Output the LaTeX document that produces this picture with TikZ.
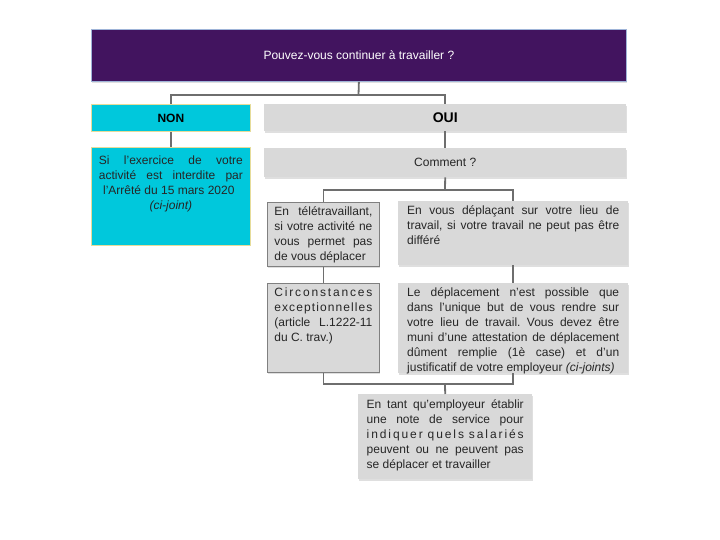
\documentclass[tikz,border=0pt]{standalone}
\usepackage{fontspec}
\setmainfont{Liberation Sans}
\usetikzlibrary{shadows}
\frenchspacing
\definecolor{titlepurple}{HTML}{42145F}
\definecolor{titleedge}{HTML}{9FB4D8}
\definecolor{noncyan}{HTML}{00C8DC}
\definecolor{nonedge}{HTML}{E6DC9A}
\definecolor{boxgray}{HTML}{D9D9D9}
\definecolor{boxedge}{HTML}{808080}
\definecolor{linkgray}{HTML}{6E6E6E}
\definecolor{txt}{HTML}{262626}
\newcommand{\jline}[1]{\makebox[\linewidth][s]{#1}\\}
\newcommand{\lline}[1]{#1\\}
\newcommand{\boxtext}[4]{\parbox[c][#1pt][t]{#2pt}{\vspace*{#3pt}\fontsize{12}{15}\selectfont\color{txt}\frenchspacing#4}}
\tikzset{
  x=1pt, y=-1pt,
  shad/.style={drop shadow={opacity=0.25, shadow xshift=0.8pt, shadow yshift=-1.5pt}},
  graybox/.style={shad, fill=boxgray, draw=none, inner ysep=0pt, anchor=north west},
  edgebox/.style={graybox, draw=boxedge, line width=0.8pt},
  cyanbox/.style={fill=noncyan, draw=nonedge, line width=0.8pt, inner ysep=0pt, anchor=north west},
  link/.style={draw=linkgray, line width=1.8pt},
}
\begin{document}
\begin{tikzpicture}
\useasboundingbox (0,0) rectangle (720,540);
% title
\node[shad, fill=titlepurple, draw=titleedge, line width=0.8pt, anchor=north west,
      minimum width=535pt, minimum height=52pt, inner sep=0pt, text=white,
      font=\fontsize{12}{14}\selectfont] (title) at (91,29) {\raisebox{-1pt}{Pouvez-vous continuer à travailler ?}};
% NON / OUI
\node[cyanbox, minimum width=159pt, minimum height=27pt, inner sep=0pt,
      font=\bfseries\fontsize{12}{14}\selectfont, text=black] (non) at (91,104) {NON};
\node[graybox, minimum width=362pt, minimum height=27pt, inner sep=0pt,
      font=\bfseries\fontsize{14}{16}\selectfont, text=black] (oui) at (264,104) {OUI};
% NON text
\node[cyanbox, inner xsep=7.5pt] (nontxt) at (91,147)
  {\boxtext{98}{144}{8}{\jline{Si\hfill l’exercice\hfill de\hfill votre}\jline{activité est interdite par}\lline{l’Arrêté du 15 mars 2020}\centering\textit{(ci-joint)}\par}};
% Comment
\node[graybox, minimum width=362pt, minimum height=29pt, inner sep=0pt,
      font=\fontsize{12}{14}\selectfont, text=txt] (comment) at (264,148) {Comment ?};
% level 2
\node[edgebox, inner xsep=7pt] (tele) at (267,202)
  {\boxtext{64}{98}{4}{\jline{En\hfill télétravaillant,}\jline{si votre activité ne}\jline{vous permet pas}\lline{de vous déplacer}}};
\node[graybox, inner xsep=9pt] (dep) at (398,201)
  {\boxtext{64}{212}{4}{\jline{En vous déplaçant sur votre lieu de}\jline{travail, si votre travail ne peut pas être}\lline{différé}}};
% level 3
\node[edgebox, inner xsep=7pt] (circ) at (267,283)
  {\boxtext{89}{98}{4}{\jline{C\hfill i\hfill r\hfill c\hfill o\hfill n\hfill s\hfill t\hfill a\hfill n\hfill c\hfill e\hfill s}\jline{e\hfill x\hfill c\hfill e\hfill p\hfill t\hfill i\hfill o\hfill n\hfill n\hfill e\hfill l\hfill l\hfill e\hfill s}\jline{(article L.1222-11}\lline{du C. trav.)}}};
\node[graybox, inner xsep=9pt] (le) at (398,283)
  {\boxtext{90}{212}{4}{\jline{Le déplacement n’est possible que}\jline{dans l’unique but de vous rendre sur}\jline{votre lieu de travail. Vous devez être}\jline{muni d’une attestation de déplacement}\jline{dûment remplie (1è case) et d’un}\lline{justificatif de votre employeur \textit{(ci-joints)}}}};
% final
\node[graybox, inner xsep=8.5pt] (final) at (358,394)
  {\boxtext{85}{157}{5}{\jline{En tant qu’employeur établir}\jline{une note de service pour}\jline{i\hfill n\hfill d\hfill i\hfill q\hfill u\hfill e\hfill r\hspace{3pt}\hfill q\hfill u\hfill e\hfill l\hfill s\hspace{3pt}\hfill s\hfill a\hfill l\hfill a\hfill r\hfill i\hfill é\hfill s}\jline{peuvent ou ne peuvent pas}\lline{se déplacer et travailler}}};
% connectors
\coordinate (t1) at (358.5,95);
\coordinate (c1) at (445,190);
\coordinate (f1) at (445,384);
\draw[link] (title.south) -- (t1);
\draw[link] (t1) -| (non.north);
\draw[link] (t1) -| (oui.north);
\draw[link] (non.south) -- (nontxt.north);
\draw[link] (oui.south) -- (comment.north);
\draw[link] (comment.south) -- (c1);
\draw[link] (c1) -| (tele.north);
\draw[link] (c1) -| (dep.north);
\draw[link] (tele.south) -- (circ.north);
\draw[link] (dep.south) -- (le.north);
\draw[link] (circ.south) |- (f1);
\draw[link] (le.south) |- (f1);
\draw[link] (f1) -- (final.north);
\end{tikzpicture}
\end{document}
